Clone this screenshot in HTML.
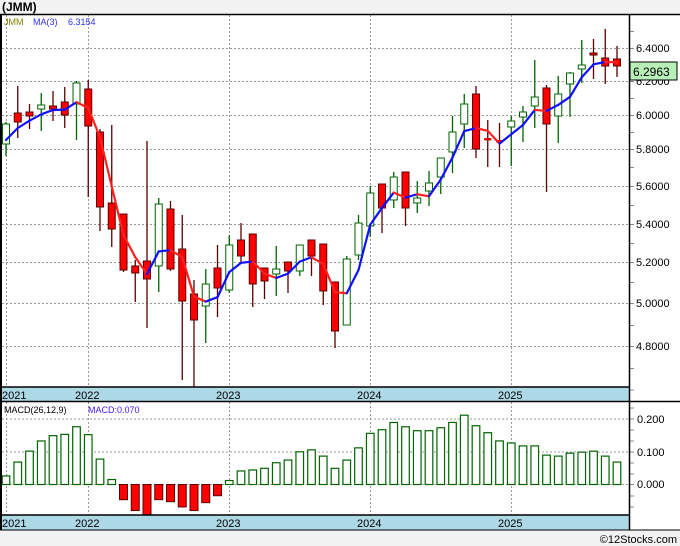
<!DOCTYPE html>
<html><head><meta charset="utf-8"><style>
html,body{margin:0;padding:0;background:#fff;}
body{width:680px;height:546px;overflow:hidden;position:relative;font-family:"Liberation Sans","DejaVu Sans",sans-serif;}
svg{position:absolute;left:0;top:0;}
</style></head><body>
<svg id="s" width="680" height="546" xmlns="http://www.w3.org/2000/svg" font-family="'Liberation Sans','DejaVu Sans',sans-serif">
<rect x="0" y="0" width="680" height="14" fill="#f2f2f2"/>
<rect x="0" y="530" width="680" height="16" fill="#f2f2f2"/>
<text x="2" y="11" font-size="12" font-weight="bold" fill="#000">(JMM)</text>
<g id="grid"></g>
<g id="cand"></g>
<g id="ma"></g>
<g id="macd"></g>
<rect x="0" y="387" width="629" height="14" fill="#add8e6"/>
<rect x="0" y="515" width="629" height="15" fill="#add8e6"/>
<line x1="0" y1="14.5" x2="680" y2="14.5" stroke="#000" stroke-width="1.5"/>
<line x1="0" y1="387" x2="629" y2="387" stroke="#000" stroke-width="1.5"/>
<line x1="0" y1="401.5" x2="680" y2="401.5" stroke="#000" stroke-width="1.5"/>
<line x1="0" y1="515" x2="629" y2="515" stroke="#000" stroke-width="1.5"/>
<line x1="0" y1="530" x2="680" y2="530" stroke="#000" stroke-width="1"/>
<line x1="629.5" y1="14" x2="629.5" y2="530" stroke="#000" stroke-width="1.5"/>
<line x1="1" y1="14" x2="1" y2="530" stroke="#000" stroke-width="2"/>
<g font-size="11" fill="#000">
<text x="2" y="399">2021</text><text x="75" y="399">2022</text><text x="216" y="399">2023</text><text x="357" y="399">2024</text><text x="498" y="399">2025</text>
<text x="2" y="527">2021</text><text x="75" y="527">2022</text><text x="216" y="527">2023</text><text x="357" y="527">2024</text><text x="498" y="527">2025</text>
</g>
<g font-size="11" fill="#000" id="ylab">
<text x="636" y="52">6.4000</text><text x="636" y="85">6.2000</text><text x="636" y="119">6.0000</text><text x="636" y="153">5.8000</text><text x="636" y="190">5.6000</text><text x="636" y="228">5.4000</text><text x="636" y="266">5.2000</text><text x="636" y="307">5.0000</text><text x="636" y="350">4.8000</text>
<text x="637" y="423">0.200</text><text x="637" y="456">0.100</text><text x="637" y="488">0.000</text>
</g>
<rect x="630" y="62" width="47" height="18" fill="#b8f0b8" stroke="#000" stroke-width="1"/>
<text x="633" y="76" font-size="12" fill="#000">6.2963</text>
<text x="4" y="25" font-size="9" fill="#808000">JMM</text>
<text x="33" y="25" font-size="9" fill="#3030ff">MA(3)</text>
<text x="68" y="25" font-size="9" fill="#3030ff">6.3154</text>
<text x="4" y="413" font-size="9" fill="#000">MACD(26,12,9)</text>
<text x="88" y="413" font-size="9" fill="#4020ff">MACD:0.070</text>
<text x="677" y="543" font-size="11" fill="#000" text-anchor="end">©12Stocks.com</text>
</svg>
<script>
(function(){
var NS="http://www.w3.org/2000/svg";
function el(p,t,a){var e=document.createElementNS(NS,t);for(var k in a)e.setAttribute(k,a[k]);document.getElementById(p).appendChild(e);return e;}
// grid
var hy=[48,81,115,149,186,224,262,303,346];
hy.forEach(function(y){el("grid","line",{x1:2,y1:y+.5,x2:629,y2:y+.5,stroke:"#999","stroke-dasharray":"2,2","stroke-width":1});el("grid","line",{x1:629,y1:y+.5,x2:634,y2:y+.5,stroke:"#888"});});
[31,64,98,132,167,205,243,282,325,368].forEach(function(y){el("grid","line",{x1:629,y1:y+.5,x2:634,y2:y+.5,stroke:"#888"});});
[419,452,484.5].forEach(function(y){el("grid","line",{x1:2,y1:y,x2:629,y2:y,stroke:"#999","stroke-dasharray":"2,2"});el("grid","line",{x1:629,y1:y,x2:634,y2:y,stroke:"#888"});});
[390,408,430,441,463,474,496,507].forEach(function(y){el("grid","line",{x1:629,y1:y,x2:634,y2:y,stroke:"#888"});});
[6,88,229,370,511].forEach(function(x){el("grid","line",{x1:x+.5,y1:15,x2:x+.5,y2:387,stroke:"#999","stroke-dasharray":"2,2"});el("grid","line",{x1:x+.5,y1:402,x2:x+.5,y2:515,stroke:"#999","stroke-dasharray":"2,2"});});
// candles [o,c,h,l]
var D=[[144,124,122,156],[113,122,86,138],[112,116,104,129],[109,105,93,131],[106,109,91,121],[102,115,87,128],[104,83,81,140],[89,126,80,197],[132,207,129,231],[203,229,125,247],[214,270,214,272],[266,273,260,302],[261,279,141,328],[266,204,198,292],[209,269,201,271],[249,301,215,380],[294,320,280,387],[306,284,269,343],[268,288,245,317],[290,245,235,293],[240,256,223,262],[234,284,234,307],[268,281,268,299],[274,269,246,296],[262,271,262,293],[271,245,245,276],[240,256,240,276],[244,291,244,305],[282,331,282,348],[325,259,256,325],[255,223,215,260],[226,193,186,237],[184,208,184,233],[200,177,172,208],[172,208,172,226],[203,198,181,213],[191,183,171,206],[177,158,158,194],[152,132,116,173],[124,104,94,148],[94,149,86,158],[139,140,120,167],[141,142,123,167],[127,121,116,166],[117,112,106,142],[106,97,60,128],[88,124,85,192],[116,94,76,143],[84,73,72,117],[69,65,40,83],[53,55,39,79],[58,66,29,84],[59,66,46,77]];
var dark=["#5a0000","#006400"];
D.forEach(function(d,i){var x=6+11.75*i;var up=d[1]<d[0];var top=Math.min(d[0],d[1]),bot=Math.max(d[0],d[1]);
 var wc=up?"#006400":"#5a0000";
 el("cand","line",{x1:x,y1:d[2],x2:x,y2:d[3],stroke:wc,"stroke-width":1.3});
 if(bot-top<2){el("cand","rect",{x:x-3.5,y:top-1,width:7,height:2.5,fill:up?"#006400":"#e00000"});}
 else el("cand","rect",{x:x-3.5,y:top,width:7,height:bot-top,fill:up?"#fff":"#ff0000",stroke:wc,"stroke-width":1});
});
// MA
function p(y){return Math.exp(1.8563-(y-48)/1036);} function yy(v){return 48+(1.8563-Math.log(v))*1036;}
var ma=[];D.forEach(function(d,i){if(i==0){ma.push(140);return;}if(i==1){ma.push(128);return;}var v=(p(D[i][1])+p(D[i-1][1])+p(D[i-2][1]))/3;ma.push(yy(v));});
for(var i=1;i<ma.length;i++){var x0=6+11.75*(i-1),x1=6+11.75*i;el("ma","line",{x1:x0,y1:ma[i-1],x2:x1,y2:ma[i],stroke:ma[i]>ma[i-1]+0.3?"#ff2020":"#1010ff","stroke-width":2.2,"stroke-linecap":"round"});}
// MACD
var M=[.026,.068,.101,.132,.148,.152,.175,.151,.077,.015,-.046,-.079,-.095,-.046,-.052,-.068,-.079,-.055,-.034,.012,.041,.044,.049,.066,.074,.099,.105,.086,.049,.074,.111,.155,.166,.188,.175,.163,.163,.172,.188,.210,.178,.157,.132,.126,.117,.117,.089,.086,.095,.098,.101,.086,.068];
var z=484.5,sc=330;
M.forEach(function(v,i){var x=6+11.75*i;var h=v*sc;
 if(v>=0)el("macd","rect",{x:x-3.8,y:z-h,width:7.6,height:h,fill:"#fff",stroke:"#006400","stroke-width":1.2});
 else el("macd","rect",{x:x-4,y:z,width:8,height:Math.min(-h,31),fill:"#ff0000",stroke:"#5a0000","stroke-width":1});
});
})();
</script>
</body></html>
